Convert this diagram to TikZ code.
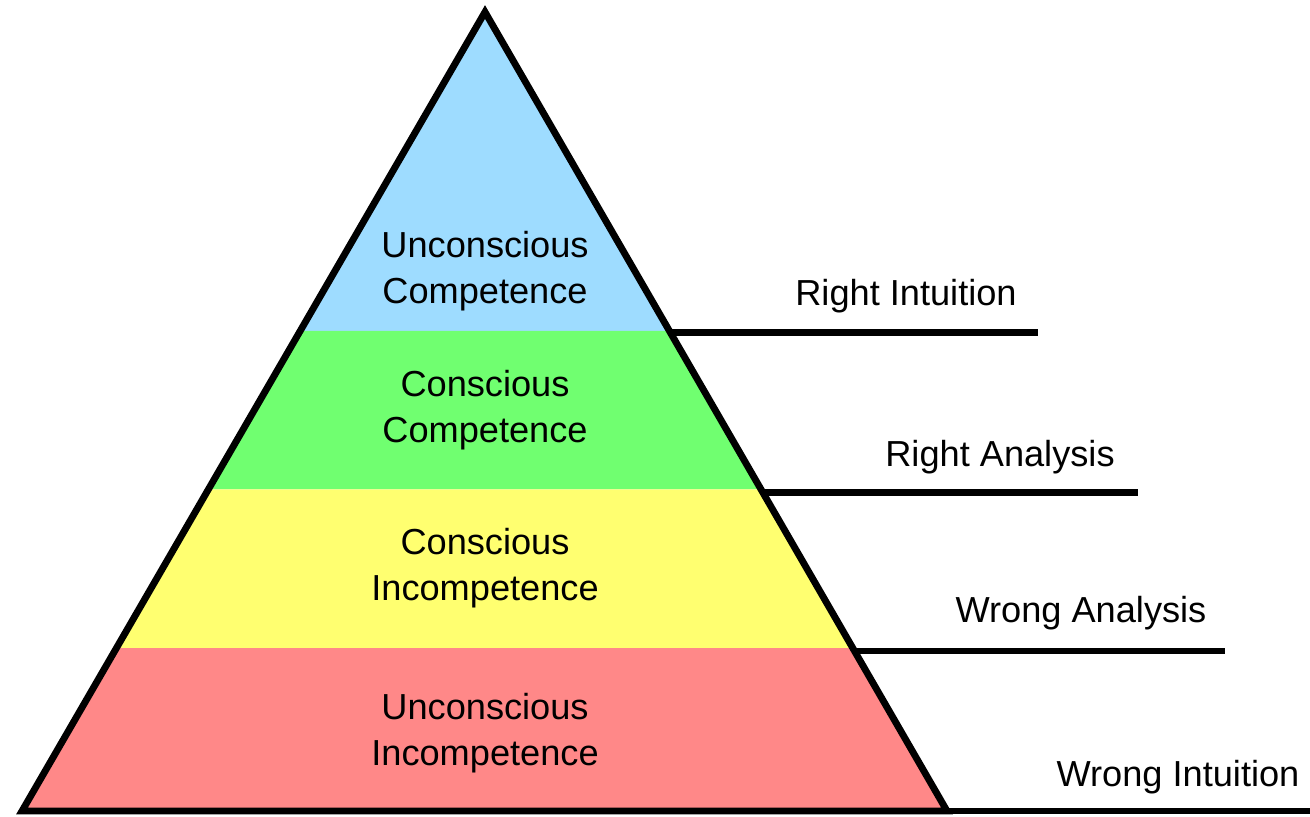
\documentclass[tikz,border=0pt]{standalone}
\usepackage{fontspec}
\setmainfont{Liberation Sans}
\usetikzlibrary{calc}
\definecolor{bandblue}{RGB}{158,220,255}
\definecolor{bandgreen}{RGB}{112,255,112}
\definecolor{bandyellow}{RGB}{255,255,112}
\definecolor{bandred}{RGB}{255,136,136}
\tikzset{level/.style={align=center, font=\fontsize{20.6}{26.6}\selectfont},
	side/.style={font=\fontsize{20.6}{26.6}\selectfont},
	edge/.style={line width=3.9pt}}

\begin{document}
\begin{tikzpicture}[x=0.02cm,y=-0.02cm]
				\useasboundingbox (0,0) rectangle (1310,816);
				\coordinate (apex) at (485,12);
				\coordinate (bl) at (22,811);
				\coordinate (br) at (947,811);
				% band borders on both sides
				\coordinate (l1) at ($(apex)!0.399!(bl)$);
				\coordinate (r1) at ($(apex)!0.399!(br)$);
				\coordinate (l2) at ($(apex)!0.5975!(bl)$);
				\coordinate (r2) at ($(apex)!0.5975!(br)$);
				\coordinate (l3) at ($(apex)!0.796!(bl)$);
				\coordinate (r3) at ($(apex)!0.796!(br)$);
				\fill[bandblue] (apex) -- (r1) -- (l1) -- cycle;
				\fill[bandgreen] (l1) -- (r1) -- (r2) -- (l2) -- cycle;
				\fill[bandyellow] (l2) -- (r2) -- (r3) -- (l3) -- cycle;
				\fill[bandred] (l3) -- (r3) -- (br) -- (bl) -- cycle;
				\draw[edge,line join=miter] (apex) -- (br) -- (bl) -- cycle;
				% levels
				\node[level] (uc) at (485,271) {Unconscious\\Competence};
				\node[level] (cc) at (485,410) {Conscious\\Competence};
				\node[level] (ci) at (485,568) {Conscious\\Incompetence};
				\node[level] (ui) at (485,733) {Unconscious\\Incompetence};
				% outcomes
				\draw[edge] ($(r1)+(0,2)$) -- ++(369,0) coordinate (e1);
				\draw[edge] ($(r2)+(0,3)$) -- ++(377,0) coordinate (e2);
				\draw[edge] ($(r3)+(0,3)$) -- ++(372,0) coordinate (e3);
				\draw[edge] (br) -- ++(370,0) coordinate (e4);
				\node[side] (ri) at (906,296) {Right Intuition};
				\node[side] (ra) at (1000,457) {Right Analysis};
				\node[side] (wa) at (1081,613) {Wrong Analysis};
				\node[side] (wi) at (1178,777) {Wrong Intuition};
			\end{tikzpicture}
\end{document}
